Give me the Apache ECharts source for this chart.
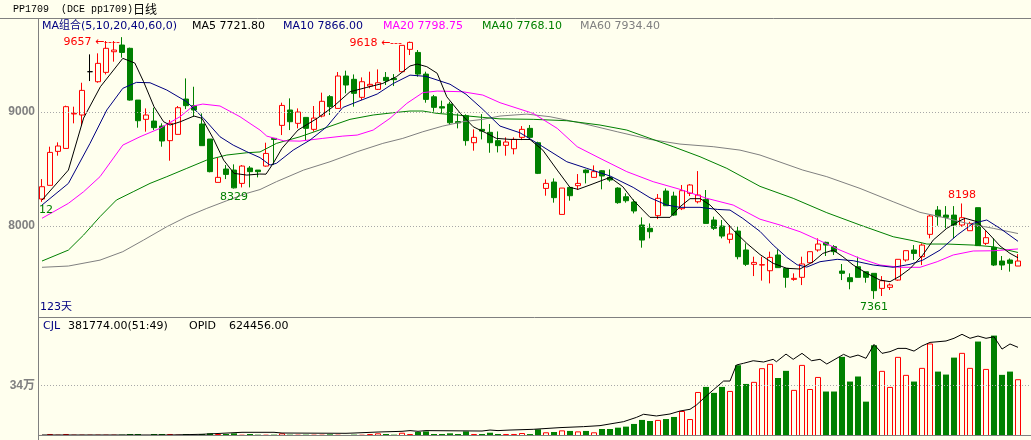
<!DOCTYPE html>
<html><head><meta charset="utf-8">
<script src="https://cdn.jsdelivr.net/npm/echarts@6/dist/echarts.min.js"></script>
<style>html,body{margin:0;padding:0;background:#ffffee;}#c{width:1031px;height:440px;}</style>
</head><body><div id="c"></div>
<script>
// ---------------- data ----------------
const categories = Array.from({length:123}, (_, i) => 'D' + (i + 1));
const opens = [8237,8357,8655,8681,8983,8974,9354,9266,9348,9529, 9588,9559,9105,8936,8921,8877,8749,8804,9114,9056, 8895,8763,8383,8500,8491,8374,8509,8491,8526,8769, 8883,9018,8901,8953,8848,8965,9135,9032,9316,9287, 9129,9228,9199,9304,9295,9354,9550,9523,9333,9134, 9047,9070,8916,8968,8731,8848,8822,8749,8708,8678, 8778,8857,8731,8330,8386,8102,8339,8354,8491,8427, 8485,8427,8333,8257,8211,8009,7980,8091,8307,8263, 8152,8287,8213,8234,8053,8000,7883,7956,7790,7664, 7658,7608,7746,7629,7532,7550,7678,7790,7857,7819, 7605,7547,7643,7599,7585,7453,7462,7526,7702,7790, 7731,7927,8140,8096,8096,8009,7959,8161,7848,7813, 7693,7702,7649];
const closes = [8345,8646,8702,9047,8989,9190,9354,9427,9559,9544, 9523,9105,8924,8974,8863,8746,8901,9038,9056,9018, 8705,8477,8427,8453,8335,8526,8477,8477,8637,8760, 9058,8915,9000,8857,8947,9094,9047,9316,9237,9164, 9266,9243,9257,9275,9284,9585,9611,9333,9111,9041, 9035,8906,8905,8749,8778,8833,8731,8705,8737,8760, 8848,8778,8462,8374,8249,8333,8266,8374,8468,8477, 8439,8404,8205,8222,8132,7877,7950,8243,8178,8096, 8310,8360,8272,8023,7980,7912,7930,7731,7664,7681, 7661,7725,7635,7550,7541,7667,7775,7842,7833,7775, 7585,7512,7550,7550,7433,7520,7483,7708,7784,7760, 7833,8088,8082,8076,8009,8073,8023,7828,7898,7658, 7658,7673,7693];
const lows = [8212,8357,8617,8681,8901,8877,9272,9257,9330,9442, 9477,9100,8863,8828,8842,8696,8573,8804,9026,8959, 8705,8471,8383,8412,8329,8339,8339,8427,8520,8535, 8798,8842,8857,8754,8828,8953,8974,9032,9164,9047, 9105,9208,9193,9237,9228,9354,9500,9310,9082,9003, 8990,8886,8857,8705,8661,8760,8643,8646,8617,8629, 8754,8760,8456,8266,8205,8102,8222,8316,8374,8427, 8322,8389,8195,8205,8111,7810,7892,8061,8178,8088, 8140,8263,8199,8023,7965,7892,7848,7708,7649,7561, 7521,7497,7635,7459,7520,7482,7678,7775,7737,7746, 7526,7445,7550,7503,7361,7386,7439,7520,7687,7702, 7658,7892,8003,7980,7892,7994,7959,7828,7833,7649, 7614,7600,7649];
const highs = [8412,8696,8734,9056,9047,9257,9506,9515,9623,9623, 9657,9565,9105,9032,9038,8901,8930,9053,9295,9222, 8988,8763,8599,8535,8541,8535,8526,8491,8731,8769, 9082,9120,9032,8953,9053,9170,9149,9351,9363,9330, 9304,9354,9374,9351,9333,9585,9618,9544,9354,9150, 9100,9090,8988,8980,8848,8982,8895,8830,8778,8778, 8877,8886,8740,8409,8418,8333,8345,8456,8497,8532, 8491,8497,8340,8287,8234,8076,8023,8281,8330,8301, 8360,8368,8482,8316,8082,8053,8009,7994,7848,7731, 7731,7775,7795,7629,7585,7731,7775,7892,7863,7833, 7667,7585,7731,7599,7585,7561,7497,7708,7784,7833, 7848,8097,8175,8175,8175,8198,8038,8161,7959,7892, 7737,7716,7754];
const volumes = [7000,13500,9000,13500,9000,9000,9000,9000,9000,9000, 9000,13500,13500,7000,13500,13500,13500,9000,13500,9000, 13500,18000,13500,13500,18000,9000,13500,9000,9000,9000, 18000,9000,9000,9000,9000,9000,11000,9000,7000,9000, 9000,13500,18000,13500,9000,22000,13500,27000,31000,13500, 13500,18000,13500,31000,13500,13500,22000,13500,13500,13500, 20000,13000,45000,25000,27000,38000,34000,31000,34000,25000, 47000,47000,56000,63000,81000,108000,101000,108000,114000,128000, 168000,114000,296000,330000,290000,330000,303000,476000,350000,364000, 456000,485000,390000,438000,310000,478000,316000,397000,299000,299000, 532000,366000,400000,231000,610000,438000,330000,532000,411000,366000, 458000,622000,433000,413000,527000,559000,458000,635000,451000,675000, 411000,433000,381774];
const ma5 = [[0,8228],[3.3,8491],[5.2,8947],[7.3,9222],[10.1,9471],[11.6,9430],[12.7,9266],[14,9047],[15.2,8915],[16,8886],[17.3,8915],[19,8965],[20,8945],[21.4,8769],[22.7,8579],[24,8462],[25.6,8447],[27.2,8456],[28,8455],[28.9,8550],[30,8682],[32,8842],[34.4,8945],[36.4,9047],[38.5,9178],[40.6,9216],[42.6,9251],[44.3,9310],[46,9404],[46.9,9421],[48.1,9398],[49.4,9340],[50.6,9134],[52.3,8988],[53.9,8871],[55.6,8813],[56.8,8769],[58.5,8760],[61,8759],[62.6,8666],[64.4,8491],[66,8339],[67,8322],[68.5,8360],[71,8427],[72.6,8345],[73.9,8228],[75.1,8140],[76,8076],[78.5,8076],[79.75,8169],[81,8240],[82.3,8240],[83.5,8184],[84.75,8096],[86.4,7965],[88.1,7848],[89.75,7750],[91.4,7673],[93.1,7629],[94.75,7623],[96.4,7687],[97.6,7760],[98.9,7789],[100.1,7731],[101.4,7658],[103.1,7585],[104.75,7526],[106,7512],[107.25,7561],[108.5,7626],[110.1,7746],[111.4,7877],[113.1,7980],[114.75,8047],[115.4,8068],[116.9,8038],[118.5,7921],[119.75,7825],[121,7760],[122,7722]];
const ma10 = [[0,8184],[3.3,8374],[6,8725],[8.1,9018],[10.1,9208],[11.8,9260],[13.5,9257],[15.6,9193],[18.1,9090],[20.2,8945],[22.25,8783],[23.9,8710],[25.6,8652],[27.25,8600],[28.5,8535],[29.3,8550],[31.4,8666],[33.5,8754],[35.6,8871],[37.6,9040],[39.75,9100],[41.9,9158],[43.9,9250],[46,9324],[48,9313],[51,9244],[53,9156],[55,9030],[57.25,8877],[59.75,8818],[62.6,8696],[65.6,8564],[68.1,8506],[71,8439],[73.9,8339],[76,8248],[78.1,8184],[79.75,8164],[82.25,8164],[84.4,8146],[86,8140],[87.6,8067],[89.75,7953],[91.4,7833],[93.1,7725],[94.4,7660],[95.6,7640],[97.25,7687],[99.4,7708],[101.4,7696],[103.9,7658],[106.4,7638],[108.5,7664],[110.1,7701],[112.25,7789],[114.4,7921],[116.4,8024],[118.1,8053],[119.75,7980],[122,7866]];
const ma20 = [[0,8068],[3.3,8199],[5.2,8301],[7.25,8433],[10.1,8710],[12.25,8783],[14.75,8857],[17.25,8959],[18.9,9053],[20.1,9070],[22.25,9053],[24.75,8959],[26,8900],[27.25,8842],[28.1,8789],[30.2,8748],[32.25,8745],[35.1,8769],[37.6,8789],[39.4,8798],[41.4,8842],[43.5,8945],[45.6,9076],[47.6,9170],[49.4,9184],[52.6,9178],[55.1,9149],[57.25,9082],[61.4,8988],[64.4,8857],[66.9,8696],[69.75,8594],[73.1,8477],[76.4,8389],[79.75,8322],[83.1,8243],[86.4,8184],[89.75,8060],[92.25,8009],[94.75,7950],[97.25,7871],[99.75,7789],[102.25,7716],[104.75,7658],[107.25,7638],[109.75,7638],[111.9,7687],[113.9,7746],[116.4,7781],[118.9,7783],[122,7799]];
const ma40 = [[0,7693],[3.3,7789],[5.2,7921],[7.25,8082],[9.3,8228],[11.4,8301],[13.5,8374],[15.6,8433],[18.1,8506],[20.6,8579],[23.1,8623],[25.6,8643],[27.25,8650],[29.3,8725],[32.25,8783],[35.6,8865],[38.5,8936],[41.4,8974],[43.9,8994],[46,9009],[47.6,9009],[49.4,8988],[51.9,8974],[55.1,8953],[57.25,8940],[61.4,8936],[65.6,8924],[69.75,8886],[73.1,8842],[76,8769],[78.9,8696],[82.25,8608],[85.6,8506],[89.75,8348],[93.9,8243],[98.1,8117],[102.25,8009],[106.4,7906],[108.9,7871],[110.6,7842],[113.1,7842],[116.4,7833],[118.9,7818],[122,7768]];
const ma60 = [[0,7638],[3.3,7649],[7.25,7701],[10.1,7775],[12.7,7877],[15.6,7994],[18.1,8082],[20.6,8155],[23.1,8222],[25.6,8287],[27.25,8320],[29.3,8389],[32.7,8491],[36,8564],[39.4,8652],[42.6,8725],[45.1,8769],[47.6,8827],[50.1,8877],[52.6,8915],[55.1,8936],[57.25,8965],[60.6,8982],[63.5,8959],[67.6,8900],[71.9,8827],[76,8760],[79.75,8719],[83.9,8696],[87.25,8666],[89.75,8623],[95.1,8491],[98.1,8433],[102.25,8330],[106.4,8213],[109.75,8120],[112.25,8082],[115.6,8024],[118.9,7980],[122,7934]];
const opid = [[0,7000],[16,7000],[20,12000],[25,26000],[29,26000],[30,21000],[38,19000],[39,21000],[42,28000],[45,33000],[46,38000],[47,33000],[48,38000],[55,35000],[56,42000],[57,38000],[58.5,42000],[61.4,47000],[64.75,59000],[67.7,66000],[69.75,73000],[72.7,101000],[74.3,131000],[75.2,153000],[76.8,141000],[78.5,155000],[79.75,176000],[81,188000],[81.8,218000],[82.7,265000],[83.9,324000],[85.2,387000],[86,387000],[86.8,500000],[87.7,512000],[88.9,530000],[90.2,521000],[91.4,540000],[91.8,523000],[93,577000],[93.9,540000],[95,582000],[96.2,530000],[97.25,540000],[98.1,507000],[100.2,575000],[101,554000],[102,570000],[103,547000],[104,645000],[105,582000],[106,594000],[107,617000],[108,617000],[109,598000],[110,634000],[111,659000],[112,664000],[113,669000],[114,688000],[115,716000],[116,688000],[117,704000],[118,688000],[119,699000],[120,612000],[121,648000],[122,624456]];
const priceTicks = [8000, 9000];
const volTicks = [340000];
const maNames = ['MA5', 'MA10', 'MA20', 'MA40', 'MA60'];
const maLast = ['7721.80', '7866.00', '7798.75', '7768.10', '7934.40'];
const cjlText = '381774.00(51:49)';
const opidText = '624456.00';

// ---------------- styling / layout ----------------
const BG = '#ffffee', UP = '#ff0000', DOWN = '#008000', FRAME = '#808080', NAVY = '#000080';
const maColors = ['#000000', NAVY, '#ff00ff', '#008000', '#808080'];
const maX = [192, 283, 383, 482, 580];
const F = '"DejaVu Sans", "Noto Sans CJK SC", sans-serif';

const kData = opens.map((o, i) => [o, closes[i], lows[i], highs[i]]);
const volUp = volumes.map((v, i) => closes[i] >= opens[i] ? v : '-');
const volDown = volumes.map((v, i) => closes[i] < opens[i] ? v : '-');

function mp(i, value, text, pos, color, dist, offset) {
  return {coord: [i, value], value: value,
    label: {show: true, position: pos, distance: dist, offset: offset || [0, 0], formatter: text,
      color: color, fontFamily: F, fontSize: 11}};
}

const texts = [
  {x: 13, y: 9, t: 'PP1709  (DCE pp1709)', c: '#000', f: '10px "Liberation Mono", monospace'},
  {x: 133, y: 9, t: '日线', c: '#000', f: '12px "Noto Sans CJK SC"'},
  {x: 42, y: 26, t: 'MA组合(5,10,20,40,60,0)', c: NAVY, f: '11px ' + F},
  {x: 40, y: 307, t: '123天', c: NAVY, f: '11px ' + F},
  {x: 43, y: 326, t: 'CJL', c: NAVY, f: '11px ' + F},
  {x: 68, y: 326, t: cjlText, c: '#000', f: '11px ' + F},
  {x: 189, y: 326, t: 'OPID', c: '#000', f: '11px ' + F},
  {x: 229, y: 326, t: opidText, c: '#000', f: '11px ' + F}
];
maNames.forEach((n, k) => texts.push({x: maX[k], y: 26, t: n + ' ' + maLast[k], c: maColors[k], f: '11px ' + F}));

const graphic = [
  {type: 'line', shape: {x1: 0, y1: 18.5, x2: 1031, y2: 18.5}},
  {type: 'line', shape: {x1: 38.5, y1: 18, x2: 38.5, y2: 440}},
  {type: 'line', shape: {x1: 38, y1: 317.5, x2: 1031, y2: 317.5}},
  {type: 'line', shape: {x1: 38, y1: 435.5, x2: 1031, y2: 435.5}}
].map(g => Object.assign(g, {silent: true, z: 50, style: {stroke: FRAME, lineWidth: 1}}));
texts.forEach(t => graphic.push({type: 'text', x: t.x, y: t.y, silent: true, z: 60,
  style: {text: t.t, fill: t.c, font: t.f, verticalAlign: 'middle', align: 'left'}}));

const dotted = {color: '#a8a8a8', width: 1, type: [1, 2]};

const maSeries = [ma60, ma40, ma20, ma10, ma5].map((d, k) => ({
  type: 'line', name: maNames[4 - k], xAxisIndex: 2, yAxisIndex: 0, data: d,
  symbol: 'none', lineStyle: {width: 1, color: maColors[4 - k]}, silent: true, z: 3
}));

const option = {
  backgroundColor: BG,
  animation: false,
  grid: [
    {left: 38, top: 18, width: 992, height: 299},
    {left: 38, top: 317, width: 992, height: 119}
  ],
  xAxis: [
    {type: 'category', gridIndex: 0, data: categories, max: 123, boundaryGap: true, show: false},
    {type: 'category', gridIndex: 1, data: categories, max: 123, boundaryGap: true, show: false},
    {type: 'value', gridIndex: 0, min: -0.5, max: 123.5, show: false},
    {type: 'value', gridIndex: 1, min: -0.5, max: 123.5, show: false}
  ],
  yAxis: [
    {type: 'value', gridIndex: 0, min: 7202, max: 9825, axisLine: {show: false}, axisTick: {show: false},
      splitLine: {show: false},
      axisLabel: {customValues: priceTicks, formatter: v => String(v), color: '#808080', fontWeight: 'bold', fontSize: 12,
        fontFamily: '"Liberation Sans", sans-serif', margin: 3}},
    {type: 'value', gridIndex: 1, min: 0, max: 800000, axisLine: {show: false}, axisTick: {show: false},
      splitLine: {show: false},
      axisLabel: {customValues: volTicks, formatter: v => (v / 10000) + '万', color: '#808080', fontWeight: 'bold',
        fontSize: 12, fontFamily: '"Liberation Sans", "Noto Sans CJK SC", sans-serif', margin: 3}},
    {type: 'value', gridIndex: 1, min: 0, max: 838000, show: false}
  ],
  graphic: graphic,
  series: [
    {type: 'candlestick', xAxisIndex: 0, yAxisIndex: 0, data: kData, barWidth: 6, z: 2,
      itemStyle: {color: BG, color0: DOWN, borderColor: UP, borderColor0: DOWN, borderColorDoji: '#000000', borderWidth: 1},
      markLine: {silent: true, symbol: ['none', 'none'], label: {show: false}, lineStyle: dotted,
        data: priceTicks.map(v => ({yAxis: v}))},
      markPoint: {symbol: 'circle', symbolSize: 0, silent: true,
        data: [
          mp(10, highs[10], highs[10] + ' ←----', 'left', UP, 2, [0, 5]),
          mp(46, highs[46], highs[46] + ' ←---', 'left', UP, 8, [0, 1.5]),
          mp(24, lows[24], String(lows[24]), 'bottom', DOWN, 3),
          mp(104, lows[104], String(lows[104]), 'bottom', DOWN, 3),
          mp(115, highs[115], String(highs[115]), 'top', UP, 3),
          mp(0, lows[0], String(lows[0]).slice(2), 'bottom', DOWN, 3, [4, 0])
        ]}
    },
    ...maSeries,
    {type: 'bar', xAxisIndex: 1, yAxisIndex: 1, data: volUp, barWidth: 6, barGap: '-100%',
      itemStyle: {color: BG, borderColor: UP, borderWidth: 1}, silent: true,
      markLine: {silent: true, symbol: ['none', 'none'], label: {show: false}, lineStyle: dotted,
        data: volTicks.map(v => ({yAxis: v}))}},
    {type: 'bar', xAxisIndex: 1, yAxisIndex: 1, data: volDown, barWidth: 6, barGap: '-100%',
      itemStyle: {color: DOWN}, silent: true},
    {type: 'line', xAxisIndex: 3, yAxisIndex: 2, data: opid, symbol: 'none', silent: true,
      lineStyle: {width: 1, color: '#000000'}, z: 4}
  ]
};
const chart = echarts.init(document.getElementById('c'));
chart.setOption(option);
</script>
</body></html>
